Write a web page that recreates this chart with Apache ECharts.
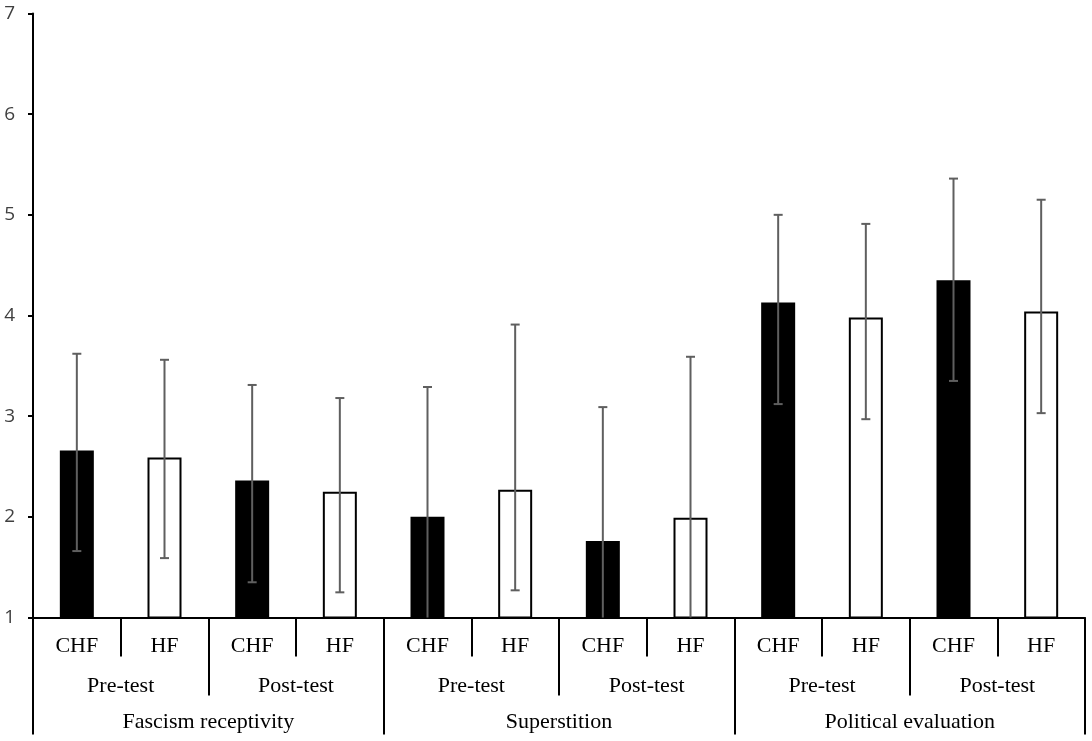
<!DOCTYPE html>
<html>
<head>
<meta charset="utf-8">
<script src="https://cdn.jsdelivr.net/npm/echarts@6/dist/echarts.min.js"></script>
<style>
  html, body { margin: 0; padding: 0; background: #fff; }
  #chart { width: 1092px; height: 741px; }
</style>
</head>
<body>
<div id="chart"></div>
<script>
// three levels of category labels
var groups = ['Fascism receptivity', 'Superstition', 'Political evaluation'];
var tests = ['Pre-test', 'Post-test', 'Pre-test', 'Post-test', 'Pre-test', 'Post-test'];
var conditions = ['CHF', 'HF', 'CHF', 'HF', 'CHF', 'HF', 'CHF', 'HF', 'CHF', 'HF', 'CHF', 'HF'];

// means and error bar ends
var means = [2.66, 2.59, 2.36, 2.25, 2.00, 2.27, 1.76, 1.99, 4.13, 3.98, 4.35, 4.04];
var errLow = [1.66, 1.59, 1.35, 1.25, 0.71, 1.27, 0.43, 0.39, 3.12, 2.97, 3.35, 3.03];
var errHigh = [3.62, 3.56, 3.31, 3.18, 3.29, 3.91, 3.09, 3.59, 5.00, 4.91, 5.36, 5.15];

var yMin = 1, yMax = 7;

var errData = means.map(function (m, i) { return [i, errLow[i], errHigh[i]]; });

var myChart = echarts.init(document.getElementById('chart'));

var serif = '"Liberation Serif", "Times New Roman", serif';

var option = {
    animation: false,
    grid: { left: 33, right: 7, top: 13.5, bottom: 123.5, containLabel: false },
    xAxis: [
        {
            type: 'category',
            data: conditions,
            axisLine: { lineStyle: { color: '#000', width: 2 } },
            axisTick: { show: true, interval: 0, length: 39, lineStyle: { color: '#000', width: 2 } },
            axisLabel: { interval: 0, margin: 18, color: '#000', fontFamily: serif, fontSize: 22 }
        },
        {
            type: 'category',
            data: tests,
            position: 'bottom',
            axisLine: { show: false },
            axisTick: { show: true, interval: 0, length: 78, lineStyle: { color: '#000', width: 2 } },
            axisLabel: { interval: 0, margin: 58, color: '#000', fontFamily: serif, fontSize: 22 }
        },
        {
            type: 'category',
            data: groups,
            position: 'bottom',
            axisLine: { show: false },
            axisTick: { show: true, interval: 0, length: 117, lineStyle: { color: '#000', width: 2 } },
            axisLabel: { interval: 0, margin: 94, color: '#000', fontFamily: serif, fontSize: 22 }
        }
    ],
    yAxis: {
        type: 'value',
        min: yMin,
        max: yMax,
        interval: 1,
        axisLine: { show: true, lineStyle: { color: '#000', width: 2 } },
        axisTick: { show: true, length: 5, lineStyle: { color: '#000', width: 2 } },
        axisLabel: { margin: 18, color: '#404040', fontFamily: '"Open Sans", sans-serif', fontSize: 19 },
        splitLine: { show: false }
    },
    series: [
        {
            type: 'bar',
            xAxisIndex: 0,
            data: means,
            barWidth: 34,
            itemStyle: {
                color: function (p) { return p.dataIndex % 2 ? '#fff' : '#000'; },
                borderColor: '#000',
                borderWidth: 2
            },
            z: 2
        },
        {
            type: 'custom',
            xAxisIndex: 0,
            data: errData,
            z: 5,
            renderItem: function (params, api) {
                var lo = Math.max(api.value(1), yMin);
                var hi = api.value(2);
                var pLo = api.coord([api.value(0), lo]);
                var pHi = api.coord([api.value(0), hi]);
                var x = pLo[0];
                var style = { stroke: '#5f5f5f', lineWidth: 2 };
                var kids = [
                    { type: 'line', shape: { x1: x, y1: pLo[1], x2: x, y2: pHi[1] }, style: style },
                    { type: 'line', shape: { x1: x - 4.5, y1: pHi[1], x2: x + 4.5, y2: pHi[1] }, style: style }
                ];
                if (api.value(1) >= yMin) {
                    kids.push({ type: 'line', shape: { x1: x - 4.5, y1: pLo[1], x2: x + 4.5, y2: pLo[1] }, style: style });
                }
                return { type: 'group', children: kids };
            }
        }
    ]
};
myChart.setOption(option);
</script>
</body>
</html>
